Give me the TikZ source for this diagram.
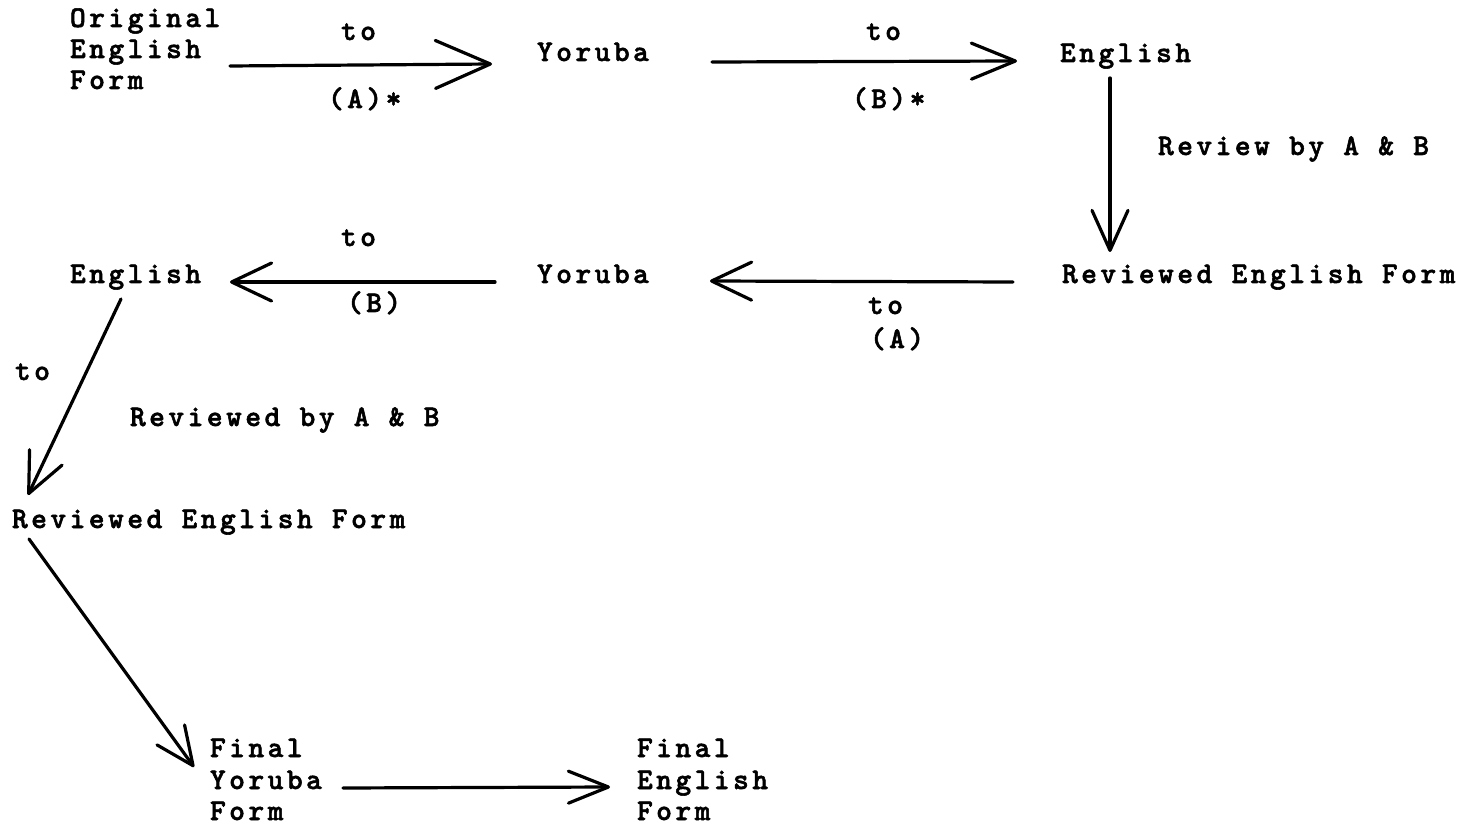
\documentclass[tikz,border=0pt]{standalone}
\usepackage{fontspec}
\usetikzlibrary{arrows.meta}
% typewriter lettering: heavy Latin Modern Mono, widely tracked
\newfontfamily\tw{lmmonolt10-bold.otf}[LetterSpace=11.6, FakeBold=1.8]
\tikzset{
  lbl/.style={anchor=base west, inner sep=0pt, outer sep=0pt,
    font=\tw\fontsize{30}{31}\selectfont, text=black},
  arr/.style 2 args={draw=black, line width=3.2pt, line cap=round, line join=round,
    -{Straight Barb[length=#1pt, width=#2pt, round]}}
}
\begin{document}
\begin{tikzpicture}[x=1pt, y=-1pt]
\useasboundingbox (0,0) rectangle (1481,826);
\fill[white] (0,0) rectangle (1481,826);

% first row
\node[lbl] (ori1) at (70,27) {Original};
\node[lbl] (ori2) at (70,58) {English};
\node[lbl] (ori3) at (70,89) {Form};
\node[lbl] (to1)  at (341,40) {to};
\node[lbl] (a1)   at (328,108) {(A)*};
\node[lbl] (yor1) at (537,61) {Yoruba};
\node[lbl] (to2)  at (866,40) {to};
\node[lbl] (b1)   at (852,108) {(B)*};
\node[lbl] (eng1) at (1060,62) {English};
\node[lbl] (rev1) at (1158,155) {Review by A \& B};

% second row
\node[lbl] (rf1)  at (1062,283) {Reviewed English Form};
\node[lbl] (to3)  at (868,314) {to};
\node[lbl] (a2)   at (870,348) {(A)};
\node[lbl] (yor2) at (537,283) {Yoruba};
\node[lbl] (to4)  at (341,246) {to};
\node[lbl] (b2)   at (347,312) {(B)};
\node[lbl] (eng2) at (70,283) {English};

% left column
\node[lbl] (to5)  at (15,380) {to};
\node[lbl] (rev2) at (130,426) {Reviewed by A \& B};
\node[lbl] (rf2)  at (12,528) {Reviewed English Form};

% final forms
\node[lbl] (fy1) at (210,757) {Final};
\node[lbl] (fy2) at (210,789) {Yoruba};
\node[lbl] (fy3) at (210,820) {Form};
\node[lbl] (fe1) at (637,757) {Final};
\node[lbl] (fe2) at (637,789) {English};
\node[lbl] (fe3) at (637,820) {Form};

% connectors
\draw[arr={55}{48}] ([shift={(160,8)}]ori2.base west) -- ([shift={(-45,3)}]yor1.base west);
\draw[arr={44}{36}] ([shift={(175,1)}]yor1.base west) -- ([shift={(-43,-1)}]eng1.base west);
\draw[arr={40}{36}] ([shift={(50,16)}]eng1.base west) -- ([shift={(48,-31)}]rf1.base west);
\draw[arr={40}{38}] ([shift={(-49,-1)}]rf1.base west) -- ([shift={(173,-2)}]yor2.base west);
\draw[arr={40}{38}] ([shift={(-42,-1)}]yor2.base west) -- ([shift={(160,-1)}]eng2.base west);
\draw[arr={40}{36}] ([shift={(51,16)}]eng2.base west) -- ([shift={(16,-33)}]rf2.base west);
\draw[arr={38}{34}] ([shift={(17,11)}]rf2.base west) -- ([shift={(-16,10)}]fy1.base west);
\draw[arr={40}{32}] ([shift={(133,-1)}]fy2.base west) -- ([shift={(-27,-2)}]fe2.base west);
\end{tikzpicture}
\end{document}
